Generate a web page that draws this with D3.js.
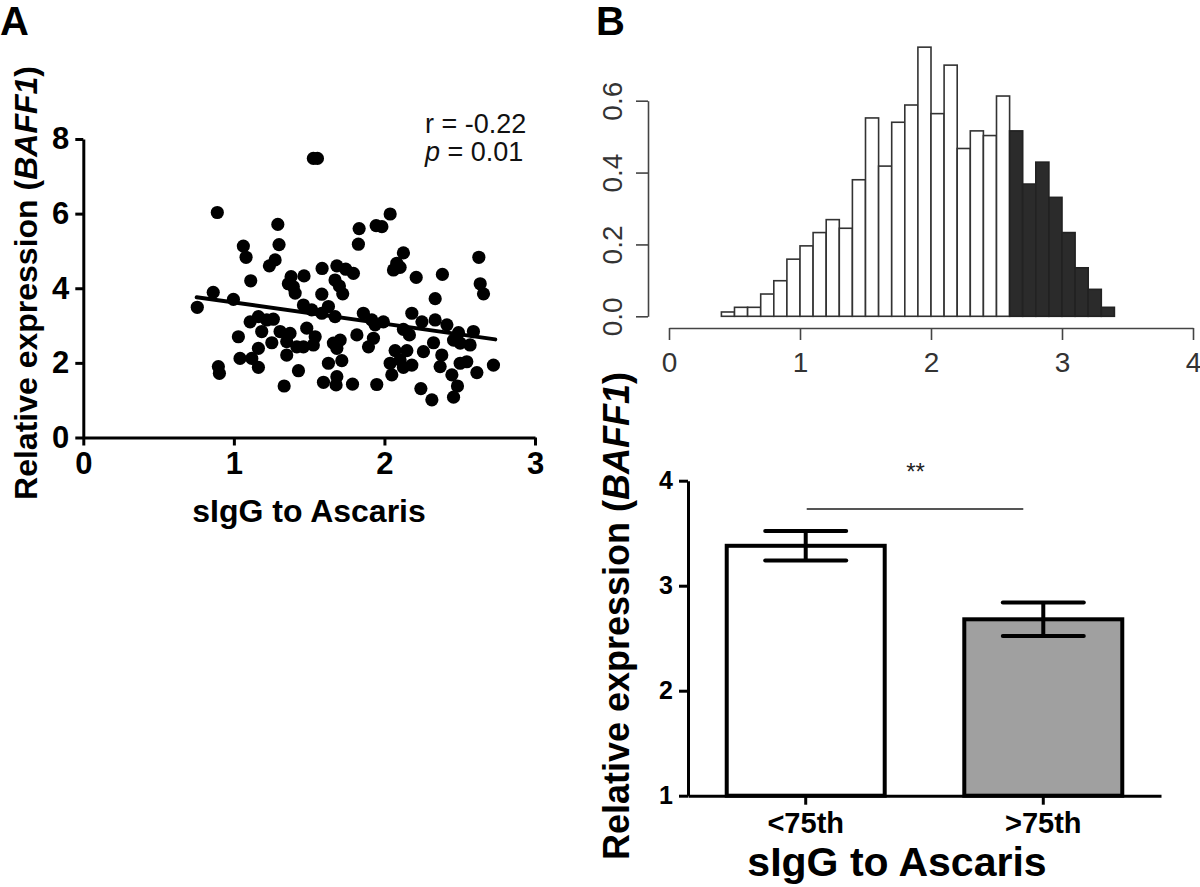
<!DOCTYPE html>
<html><head><meta charset="utf-8">
<script src="https://cdn.jsdelivr.net/npm/d3@7"></script>
<style>
body{margin:0;background:#fff;}
svg{display:block;font-family:"Liberation Sans",Arial,Helvetica,sans-serif;}
</style></head>
<body><svg id="c" width="1200" height="887"></svg>
<script>
// ---------- Panel A: scatter ----------
const scatterX = [0.757,0.863,0.997,0.890,0.897,0.904,1.030,1.041,1.063,1.081,1.108,1.112,1.119,1.163,1.163,1.163,1.185,1.219,1.236,1.252,
1.262,1.274,1.292,1.300,1.307,1.334,1.351,1.351,1.362,1.373,1.380,1.395,1.407,1.418,1.429,1.462,1.462,1.466,1.484,1.517,
1.528,1.555,1.528,1.540,1.584,1.584,1.586,1.595,1.628,1.628,1.661,1.672,1.672,1.684,1.684,1.684,1.679,1.701,1.706,1.717,
1.723,1.743,1.788,1.794,1.817,1.827,1.832,1.860,1.894,1.916,1.927,1.945,1.983,1.938,1.993,1.949,2.038,2.126,2.082,2.104,
2.060,2.211,2.385,2.627,2.636,2.658,2.337,2.182,2.249,2.337,2.415,2.126,2.166,2.492,2.459,2.503,2.569,2.591,2.326,2.071,
2.149,2.259,2.038,2.104,2.182,2.126,2.381,2.370,2.049,2.503,2.547,2.448,2.614,2.724,2.242,2.315,2.485,2.459];
const scatterY = [3.49,3.89,3.70,6.03,1.90,1.72,2.70,2.12,5.13,4.83,3.10,4.20,2.12,3.24,2.39,1.88,2.84,3.15,4.60,2.54,
3.17,4.76,5.71,5.17,2.84,1.38,2.57,2.21,4.12,2.79,4.31,4.04,3.87,2.43,1.79,3.55,2.43,4.33,2.93,3.42,
7.48,7.48,2.48,2.70,3.84,3.33,4.53,1.48,3.51,1.99,2.53,4.22,3.24,4.60,2.39,1.63,1.41,4.06,2.61,2.06,
3.85,4.51,1.43,4.40,2.75,5.18,5.60,3.33,2.43,3.15,2.66,5.68,5.65,3.02,3.10,1.42,5.99,4.95,4.67,4.56,
4.49,4.29,4.37,4.83,4.12,3.85,3.72,3.33,3.10,3.15,3.02,2.90,2.75,2.81,2.61,2.53,2.48,2.84,2.54,2.33,
2.33,2.30,1.99,2.08,1.94,1.88,2.21,1.90,1.68,1.99,2.03,1.68,1.74,1.94,1.31,1.01,1.38,1.08];
const fitX = [0.753, 2.736];
const fitY = [3.76, 2.63];
const scatterXTicks = [0,1,2,3];
const scatterYTicks = [0,2,4,6,8];

// ---------- Panel B top: histogram ----------
const histBinStart = [0.4,0.5,0.6,0.7,0.8,0.9,1.0,1.1,1.2,1.3,1.4,1.5,1.6,1.7,1.8,1.9,2.0,2.1,2.2,2.3,2.4,2.5,
                      2.6,2.7,2.8,2.9,3.0,3.1,3.2,3.3];
const histBinEnd   = [0.5,0.6,0.7,0.8,0.9,1.0,1.1,1.2,1.3,1.4,1.5,1.6,1.7,1.8,1.9,2.0,2.1,2.2,2.3,2.4,2.5,2.6,
                      2.7,2.8,2.9,3.0,3.1,3.2,3.3,3.4];
const histDensity  = [0.012,0.025,0.025,0.062,0.099,0.159,0.196,0.233,0.269,0.245,0.380,0.552,0.418,0.540,0.588,0.749,
                      0.564,0.699,0.467,0.516,0.503,0.613,
                      0.516,0.368,0.429,0.331,0.233,0.135,0.075,0.025];
const histUpperQuartile = [0,0,0,0,0,0,0,0,0,0,0,0,0,0,0,0,0,0,0,0,0,0,1,1,1,1,1,1,1,1];
const histXTicks = [0,1,2,3,4];
const histYTicks = [0.0,0.2,0.4,0.6];

// ---------- Panel B bottom: bar chart ----------
const barCategories = ["<75th", ">75th"];
const barMeans = [3.38, 2.68];
const barErrLow = [3.24, 2.52];
const barErrHigh = [3.52, 2.84];
const barYTicks = [1,2,3,4];

const svg = d3.select("#c");

// ===== Panel A =====
const xA = d3.scaleLinear().domain([0,3]).range([83.3,535]);
const yA = d3.scaleLinear().domain([0,8]).range([437.5,139]);
const gA = svg.append("g");

const axAx = gA.append("g").attr("transform","translate(0,437.5)")
  .call(d3.axisBottom(xA).tickValues(scatterXTicks).tickSize(8).tickSizeOuter(0).tickPadding(6).tickFormat(d3.format("d")));
const axAy = gA.append("g").attr("transform","translate(83.3,0)")
  .call(d3.axisLeft(yA).tickValues(scatterYTicks).tickSize(8).tickSizeOuter(0).tickPadding(6).tickFormat(d3.format("d")));
[axAx, axAy].forEach(a=>{
  a.select(".domain").attr("stroke","#000").attr("stroke-width",3);
  a.selectAll(".tick line").attr("stroke","#000").attr("stroke-width",3);
  a.selectAll(".tick text").attr("fill","#000").attr("font-size",31).attr("font-weight","bold");
});

gA.selectAll("circle.pt").data(scatterX).join("circle").attr("class","pt")
  .attr("cx",(d,i)=>xA(d)).attr("cy",(d,i)=>yA(scatterY[i])).attr("r",6.6).attr("fill","#000");

gA.append("line").attr("x1",xA(fitX[0])).attr("y1",yA(fitY[0])).attr("x2",xA(fitX[1])).attr("y2",yA(fitY[1]))
  .attr("stroke","#000").attr("stroke-width",4).attr("stroke-linecap","round");

gA.append("text").attr("x",425).attr("y",133).attr("font-size",27).attr("fill","#111").text("r = -0.22");
const pt = gA.append("text").attr("x",425).attr("y",161).attr("font-size",27).attr("fill","#111");
pt.append("tspan").attr("font-style","italic").text("p");
pt.append("tspan").text(" = 0.01");

gA.append("text").attr("transform","translate(37,283) rotate(-90)").attr("text-anchor","middle")
  .attr("font-size",32).attr("font-weight","bold").call(t=>{
    t.append("tspan").text("Relative expression (");
    t.append("tspan").attr("font-style","italic").text("BAFF1");
    t.append("tspan").text(")");
  });
gA.append("text").attr("x",309).attr("y",522).attr("text-anchor","middle")
  .attr("font-size",32).attr("font-weight","bold").text("sIgG to Ascaris");

svg.append("text").attr("x",0).attr("y",35).attr("font-size",40).attr("font-weight","bold").text("A");
svg.append("text").attr("x",596).attr("y",35).attr("font-size",40).attr("font-weight","bold").text("B");

// ===== Panel B histogram =====
const xH = d3.scaleLinear().domain([0,4]).range([669,1193]);
const yH = d3.scaleLinear().domain([0,0.6]).range([316.3,100.7]);
const gH = svg.append("g");
gH.selectAll("rect.hb").data(histDensity).join("rect").attr("class","hb")
  .attr("x",(d,i)=>xH(histBinStart[i])).attr("width",(d,i)=>xH(histBinEnd[i])-xH(histBinStart[i]))
  .attr("y",d=>yH(d)).attr("height",d=>yH(0)-yH(d))
  .attr("fill",(d,i)=>histUpperQuartile[i]?"#2b2b2b":"#fff")
  .attr("stroke",(d,i)=>histUpperQuartile[i]?"#222":"#333").attr("stroke-width",1.6);

const hx = gH.append("g").attr("transform","translate(0,328)")
  .call(d3.axisBottom(xH).tickValues(histXTicks).tickSize(12).tickSizeOuter(0).tickPadding(12).tickFormat(d3.format("d")));
const hy = gH.append("g").attr("transform","translate(648,0)")
  .call(d3.axisLeft(yH).tickValues(histYTicks).tickSize(12).tickSizeOuter(0).tickPadding(4).tickFormat(d3.format(".1f")));
[hx,hy].forEach(a=>{
  a.select(".domain").attr("stroke","#444").attr("stroke-width",1.6);
  a.selectAll(".tick line").attr("stroke","#444").attr("stroke-width",1.6);
  a.selectAll(".tick text").attr("fill","#333").attr("font-size",28);
});
hy.selectAll(".tick text").attr("text-anchor","middle").attr("dy",null)
  .attr("transform","translate(-14,0) rotate(-90)").attr("x",0).attr("y",-12);

// ===== Panel B bar chart =====
const xB = d3.scaleBand().domain(barCategories).range([688,1161]).paddingInner(0.335).paddingOuter(0.163);
const yB = d3.scaleLinear().domain([1,4]).range([795.7,480.7]);
const gB = svg.append("g");

gB.selectAll("rect.bar").data(barMeans).join("rect").attr("class","bar")
  .attr("x",(d,i)=>xB(barCategories[i])).attr("width",xB.bandwidth())
  .attr("y",d=>yB(d)).attr("height",d=>yB(1)-yB(d))
  .attr("fill",(d,i)=>i===0?"#fff":"#a0a0a0").attr("stroke","#000").attr("stroke-width",4);

const capW = 81;
barMeans.forEach((m,i)=>{
  const cx = xB(barCategories[i]) + xB.bandwidth()/2;
  gB.append("line").attr("x1",cx).attr("x2",cx).attr("y1",yB(barErrHigh[i])).attr("y2",yB(barErrLow[i]))
    .attr("stroke","#000").attr("stroke-width",4);
  [barErrHigh[i], barErrLow[i]].forEach(v=>{
    gB.append("line").attr("x1",cx-capW/2).attr("x2",cx+capW/2).attr("y1",yB(v)).attr("y2",yB(v))
      .attr("stroke","#000").attr("stroke-width",4).attr("stroke-linecap","round");
  });
});

const bx = gB.append("g").attr("transform","translate(0,795.7)")
  .call(d3.axisBottom(xB).tickSize(9).tickSizeOuter(0).tickPadding(8));
const by = gB.append("g").attr("transform","translate(688,0)")
  .call(d3.axisLeft(yB).tickValues(barYTicks).tickSize(9).tickSizeOuter(0).tickPadding(6).tickFormat(d3.format("d")));
[bx,by].forEach(a=>{
  a.select(".domain").attr("stroke","#000").attr("stroke-width",3);
  a.selectAll(".tick line").attr("stroke","#000").attr("stroke-width",3);
  a.selectAll(".tick text").attr("fill","#000").attr("font-weight","bold");
});
by.selectAll(".tick text").attr("font-size",25);
bx.selectAll(".tick text").attr("font-size",29);

// significance
const c0 = xB(barCategories[0]) + xB.bandwidth()/2, c1 = xB(barCategories[1]) + xB.bandwidth()/2;
gB.append("line").attr("x1",c0+1).attr("x2",c1-20).attr("y1",509).attr("y2",509).attr("stroke","#555").attr("stroke-width",2);
gB.append("text").attr("x",(c0+c1)/2-9).attr("y",480).attr("text-anchor","middle").attr("font-size",24).attr("fill","#222").text("**");

gB.append("text").attr("transform","translate(629,616) rotate(-90)").attr("text-anchor","middle")
  .attr("font-size",36).attr("font-weight","bold").call(t=>{
    t.append("tspan").text("Relative expression (");
    t.append("tspan").attr("font-style","italic").text("BAFF1");
    t.append("tspan").text(")");
  });
gB.append("text").attr("x",897).attr("y",876).attr("text-anchor","middle")
  .attr("font-size",41).attr("font-weight","bold").text("sIgG to Ascaris");
</script></body></html>
